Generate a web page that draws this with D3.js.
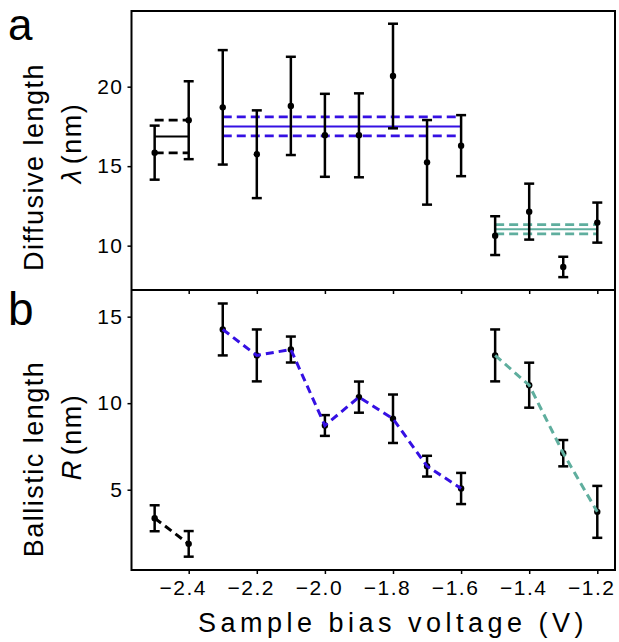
<!DOCTYPE html>
<html>
<head>
<meta charset="utf-8">
<script src="https://cdn.jsdelivr.net/npm/d3@7"></script>
<style>
    body { margin: 0; background: white; }
    svg { display: block; font-family: "Liberation Sans", Arial, sans-serif; }
</style>
</head>
<body>
<svg id="chart"></svg>
<script>
// sample bias voltage for each measurement
const volts = [-2.5, -2.4, -2.3, -2.2, -2.1, -2.0, -1.9, -1.8, -1.7, -1.6, -1.5, -1.4, -1.3, -1.2]

// panel a, diffusive length
const lambdaVals = [15.85, 17.89, 18.70, 15.75, 18.79, 16.94, 16.94, 20.67, 15.24, 16.29, 10.63, 12.14, 8.66, 11.45]
const lambdaErr = [1.70, 2.45, 3.60, 2.76, 3.09, 2.61, 2.64, 3.29, 2.66, 1.92, 1.22, 1.76, 0.64, 1.26]

// panel b, ballistic length
const ballVals = [3.35, 1.87, 14.26, 12.76, 13.10, 8.71, 10.35, 9.10, 6.36, 5.07, 12.76, 11.04, 7.11, 3.72]
const ballErr = [0.75, 0.74, 1.50, 1.50, 0.75, 0.60, 0.90, 1.40, 0.60, 0.90, 1.50, 1.30, 0.76, 1.50]

// voltage groups (index ranges), with group mean and spread of lambda
const groupStart = [0, 2, 10]
const groupEnd = [1, 9, 13]
const groupColor = ["#000000", "#3510e3", "#5fae9e"]
const groupMean = [16.87, 17.50, 11.03]
const groupSpread = [1.03, 0.60, 0.29]

const xTicks = [-2.4, -2.2, -2.0, -1.8, -1.6, -1.4, -1.2]
const lambdaTicks = [10, 15, 20]
const ballTicks = [5, 10, 15]

const W = 619, H = 642
const pLeft = 131.5, pRight = 615, pTop = 11, pMid = 290, pBottom = 570

const svg = d3.select("#chart")
    .attr("width", W)
    .attr("height", H)

const xscl = d3.scaleLinear().domain([-2.568, -1.148]).range([pLeft, pRight])
const yTop = d3.scaleLinear().domain([7.21, 24.76]).range([pMid, pTop])
const yBot = d3.scaleLinear().domain([0.36, 16.54]).range([pBottom, pMid])

const fmt = d3.format(".1f")

function styleAxis(g){
    g.select(".domain").remove()
    g.selectAll(".tick line").attr("stroke", "black").attr("stroke-width", 1.5)
    g.selectAll("text")
        .attr("fill", "black")
        .style("font-size", "21px")
        .style("letter-spacing", "1.5px")
}

// y axes
svg.append("g")
    .attr("transform", `translate(${pLeft},0)`)
    .call(d3.axisLeft(yTop).tickValues(lambdaTicks).tickSize(4).tickPadding(4))
    .call(styleAxis)

svg.append("g")
    .attr("transform", `translate(${pLeft},0)`)
    .call(d3.axisLeft(yBot).tickValues(ballTicks).tickSize(4).tickPadding(4))
    .call(styleAxis)

// x axis at bottom, plus ticks of panel a's axis
svg.append("g")
    .attr("transform", `translate(0,${pBottom})`)
    .call(d3.axisBottom(xscl).tickValues(xTicks).tickFormat(fmt).tickSize(4).tickPadding(6))
    .call(styleAxis)
    .selectAll("text")
        .attr("dx", -6)

svg.append("g")
    .attr("transform", `translate(0,${pMid})`)
    .call(d3.axisBottom(xscl).tickValues(xTicks).tickFormat("").tickSize(4))
    .call(styleAxis)

// panel a: group mean lines
groupStart.forEach((s, i) => {
    const x1 = xscl(volts[s]), x2 = xscl(volts[groupEnd[i]])
    const levels = [groupMean[i], groupMean[i] + groupSpread[i], groupMean[i] - groupSpread[i]]
    levels.forEach((v, k) => {
        svg.append("line")
            .attr("x1", x1)
            .attr("x2", x2)
            .attr("y1", yTop(v))
            .attr("y2", yTop(v))
            .attr("stroke", groupColor[i])
            .attr("stroke-width", k == 0 ? 2 : 2.8)
            .style("stroke-dasharray", k == 0 ? null : "9, 5")
    })
})

function errorBars(yscl, vals, errs){
    const g = svg.append("g")
    const d = volts.map((v, i) => ({x: v, y: vals[i], e: errs[i]}))
    g.selectAll(".bar")
        .data(d)
        .enter().append("line")
        .attr("x1", d => xscl(d.x))
        .attr("x2", d => xscl(d.x))
        .attr("y1", d => yscl(d.y - d.e))
        .attr("y2", d => yscl(d.y + d.e))
        .attr("stroke", "black")
        .attr("stroke-width", 2.5)
    ;[-1, 1].forEach(sign => {
        g.selectAll(".cap" + sign)
            .data(d)
            .enter().append("line")
            .attr("x1", d => xscl(d.x) - 5)
            .attr("x2", d => xscl(d.x) + 5)
            .attr("y1", d => yscl(d.y + sign * d.e))
            .attr("y2", d => yscl(d.y + sign * d.e))
            .attr("stroke", "black")
            .attr("stroke-width", 2.5)
    })
    g.selectAll(".dot")
        .data(d)
        .enter().append("circle")
        .attr("cx", d => xscl(d.x))
        .attr("cy", d => yscl(d.y))
        .attr("r", 3.2)
        .attr("fill", "black")
}

errorBars(yTop, lambdaVals, lambdaErr)
errorBars(yBot, ballVals, ballErr)

// panel b: dashed connecting lines per group
const line = d3.line()
    .x(i => xscl(volts[i]))
    .y(i => yBot(ballVals[i]))

groupStart.forEach((s, i) => {
    const idx = d3.range(s, groupEnd[i] + 1)
    svg.append("path")
        .datum(idx)
        .attr("d", line)
        .attr("fill", "none")
        .attr("stroke", groupColor[i])
        .attr("stroke-width", 3)
        .style("stroke-dasharray", "8, 5")
})

// frames
svg.append("rect")
    .attr("x", pLeft).attr("y", pTop)
    .attr("width", pRight - pLeft).attr("height", pBottom - pTop)
    .attr("fill", "none").attr("stroke", "black").attr("stroke-width", 2)
svg.append("line")
    .attr("x1", pLeft).attr("x2", pRight)
    .attr("y1", pMid).attr("y2", pMid)
    .attr("stroke", "black").attr("stroke-width", 2)

// labels
svg.append("text")
    .attr("x", 8).attr("y", 40)
    .style("font-size", "44px")
    .text("a")
svg.append("text")
    .attr("x", 8).attr("y", 325)
    .style("font-size", "46px")
    .text("b")

function yLabel(cy1, cy2, line1, sym){
    svg.append("text")
        .attr("transform", `translate(43,${cy1}) rotate(-90)`)
        .attr("text-anchor", "middle")
        .style("font-size", "27px")
        .style("letter-spacing", "1.5px")
        .text(line1)
    const t = svg.append("text")
        .attr("transform", `translate(81,${cy2}) rotate(-90)`)
        .attr("text-anchor", "middle")
        .style("font-size", "27px")
        .style("letter-spacing", "1.5px")
    t.append("tspan").style("font-style", "italic").text(sym)
    t.append("tspan").attr("dx", 4).text("(nm)")
}

yLabel(167, 143, "Diffusive length", "λ")
yLabel(459, 437, "Ballistic length", "R")

svg.append("text")
    .attr("x", 393)
    .attr("y", 632)
    .attr("text-anchor", "middle")
    .style("font-size", "27px")
    .style("letter-spacing", "4.5px")
    .text("Sample bias voltage (V)")
</script>
</body>
</html>
